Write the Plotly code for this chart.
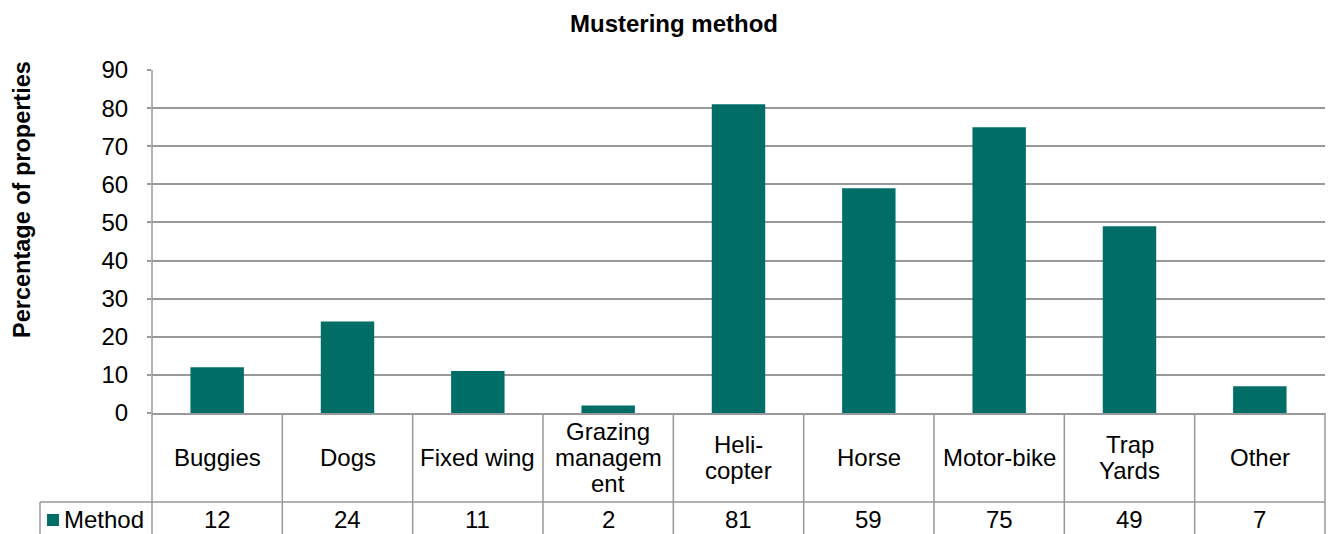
import plotly.graph_objects as go

categories = ["Buggies", "Dogs", "Fixed wing", "Grazing management", "Heli-copter",
              "Horse", "Motor-bike", "Trap Yards", "Other"]
category_lines = [["Buggies"], ["Dogs"], ["Fixed wing"], ["Grazing", "managem", "ent"],
                  ["Heli-", "copter"], ["Horse"], ["Motor-bike"], ["Trap", "Yards"], ["Other"]]
method_values = [12, 24, 11, 2, 81, 59, 75, 49, 7]
series_name = "Method"

BAR = "#006e66"
GRID = "#999999"
FONT = "Liberation Sans, Arial, sans-serif"
OFF = 8  # page body margin in the browser
W, H = 1334 - OFF, 534 - OFF
L, R, T, B = 152 - OFF, 9, 70 - OFF, 121
PLOT_H = H - T - B
PLOT_W = W - L - R
LINE_STEP = 26


def py(page_y):
    # page pixel row -> paper y
    return (T + PLOT_H - (page_y - OFF)) / PLOT_H


def px(page_x):
    return (page_x - OFF - L) / PLOT_W


fig = go.Figure()
fig.add_trace(go.Bar(
    x=categories, y=method_values, name=series_name,
    marker=dict(color=BAR, line=dict(width=0)),
    width=0.41, showlegend=False,
))

shapes = []
line = dict(color=GRID, width=1.5)
row1_bottom = py(502)
table_bottom = py(545)
# data table grid
shapes.append(dict(type="line", xref="paper", yref="paper", x0=0, x1=0, y0=1, y1=table_bottom, line=line))
shapes.append(dict(type="line", xref="paper", yref="paper", x0=1, x1=1, y0=0, y1=table_bottom, line=line))
for i in range(1, len(categories)):
    shapes.append(dict(type="line", xref="x", yref="paper", x0=i - 0.5, x1=i - 0.5,
                       y0=0, y1=table_bottom, line=line))
shapes.append(dict(type="line", xref="paper", yref="paper", x0=px(40), x1=1,
                   y0=row1_bottom, y1=row1_bottom, line=line))
shapes.append(dict(type="line", xref="paper", yref="paper", x0=px(40), x1=px(40),
                   y0=row1_bottom, y1=table_bottom, line=line))
# legend key square
shapes.append(dict(type="rect", xref="paper", yref="paper", x0=px(47), x1=px(59),
                   y0=py(526), y1=py(514), fillcolor=BAR, line=dict(width=0)))

annotations = []
for cat, lines, v in zip(categories, category_lines, method_values):
    n = len(lines)
    for k, txt in enumerate(lines):
        yc = 457.5 + (k - (n - 1) / 2) * LINE_STEP
        annotations.append(dict(x=cat, xref="x", y=py(yc), yref="paper", text=txt,
                                showarrow=False, font=dict(size=24, color="black"),
                                yanchor="middle"))
    annotations.append(dict(x=cat, xref="x", y=py(519), yref="paper", text=str(v),
                            showarrow=False, font=dict(size=24, color="black"),
                            yanchor="middle"))
annotations.append(dict(x=px(62), xref="paper", y=py(519), yref="paper", text=series_name,
                        showarrow=False, xanchor="left", yanchor="middle",
                        font=dict(size=24, color="black")))
annotations.append(dict(x=px(22), xref="paper", y=py(200), yref="paper",
                        text="<b>Percentage of properties</b>", textangle=-90,
                        showarrow=False, xanchor="center", yanchor="middle",
                        font=dict(size=23.5, color="black")))

fig.update_layout(
    width=W, height=H,
    margin=dict(l=L, r=R, t=T, b=B),
    paper_bgcolor="white", plot_bgcolor="white",
    font=dict(family=FONT, color="black"),
    title=dict(text="<b>Mustering method</b>", x=(674 - OFF) / W, xref="container", xanchor="center",
               y=1 - (24 - OFF) / H, yref="container", yanchor="middle",
               font=dict(size=24, color="black")),
    xaxis=dict(range=[-0.5, len(categories) - 0.5], showticklabels=False, showgrid=False,
               showline=True, linecolor=GRID, linewidth=1.5, ticks="", zeroline=False),
    yaxis=dict(range=[0, 90], dtick=10, showgrid=True, gridcolor=GRID, gridwidth=1.5,
               showline=False, zeroline=False, ticks="outside", ticklen=4, tickcolor=GRID,
               tickwidth=1.5, ticklabelstandoff=14,
               tickfont=dict(size=24, color="black")),
    shapes=shapes, annotations=annotations,
    bargap=0.59,
)

fig.write_html("out.html")
